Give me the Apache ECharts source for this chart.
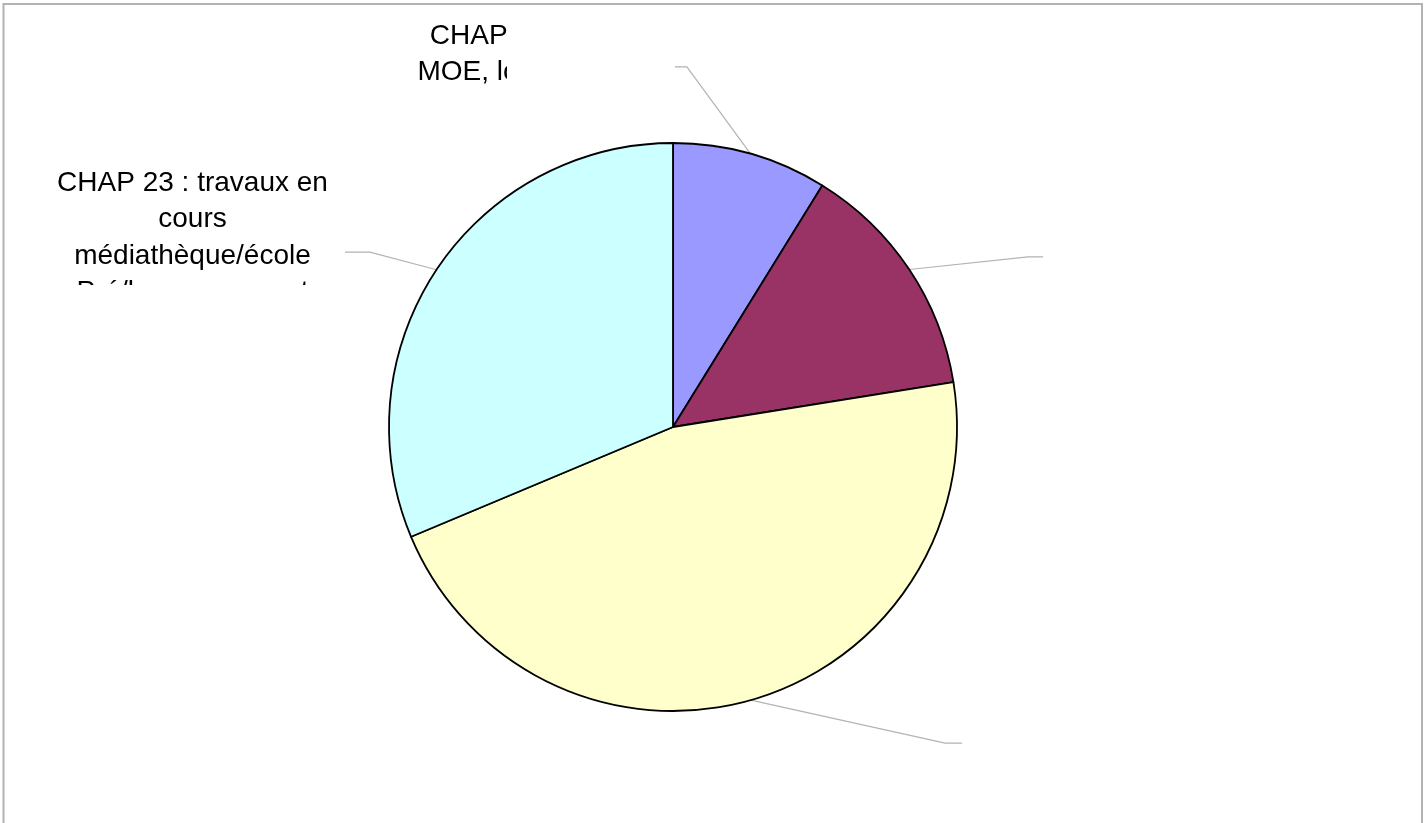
<!DOCTYPE html>
<html>
<head>
<meta charset="utf-8">
<title>Répartition des dépenses</title>
<script src="https://cdn.jsdelivr.net/npm/echarts@6/dist/echarts.min.js"></script>
<style>
  html, body { margin: 0; padding: 0; background: #ffffff; }
  #chart { width: 1426px; height: 823px; }
</style>
</head>
<body>
<div id="chart"></div>
<script>
// Budget chapters, clockwise from 12 o'clock
const categories = ['CHAP 20', 'CHAP 21', 'CHAP 16', 'CHAP 23'];
// Share of each chapter (%)
const shares = [8.81, 13.67, 46.21, 31.32];
// Slice label texts (empty where no caption is shown)
const labelTexts = [
  'CHAP 20 : études\nMOE, logiciels, PLU',
  '',
  '',
  'CHAP 23 : travaux en\ncours\nmédiathèque/école\nPré/locaux, auvent'
];
const sliceColors = ['#9999ff', '#993366', '#ffffcc', '#ccffff'];

// Pie geometry (px)
const CENTER = [673, 427];
const RADIUS = 284;

// Leader line elbows (in radii from the centre), horizontal tail length (px)
// and text anchor offset from the tail end (px)
const LABEL_GEOM = [
  { elbow: [0.049, -1.268], tail: -12, text: [-133, -49] },
  { elbow: [1.25, -0.599], tail: 15, text: [0, 0] },
  { elbow: [0.958, 1.113], tail: 17, text: [0, 0] },
  { elbow: [-1.067, -0.616], tail: -25, text: [-152.5, -87] }
];

const chart = echarts.init(document.getElementById('chart'), null, { renderer: 'canvas' });

const option = {
  backgroundColor: '#ffffff',
  animation: false,
  graphic: [
    // frame
    {
      type: 'rect', z: 100,
      shape: { x: 3.5, y: 4, width: 1418.5, height: 840 },
      style: { fill: 'none', stroke: '#b3b3b3', lineWidth: 2 }
    },
    // caption boxes clip their overflowing text
    {
      type: 'rect', z: 90,
      shape: { x: 507, y: 8, width: 160, height: 92 },
      style: { fill: '#ffffff' }
    },
    {
      type: 'rect', z: 90,
      shape: { x: 20, y: 285, width: 340, height: 40 },
      style: { fill: '#ffffff' }
    }
  ],
  series: [{
    type: 'pie',
    center: CENTER,
    radius: RADIUS,
    startAngle: 90,
    clockwise: true,
    avoidLabelOverlap: false,
    silent: true,
    data: categories.map((name, i) => ({
      name: name,
      value: shares[i],
      itemStyle: { color: sliceColors[i] }
    })),
    itemStyle: { borderColor: '#000000', borderWidth: 1.8 },
    label: {
      show: true,
      position: 'outside',
      formatter: (p) => labelTexts[p.dataIndex] || ' ',
      fontFamily: 'Liberation Sans, Arial, sans-serif',
      fontSize: 28,
      lineHeight: 36.3,
      color: '#000000',
      align: 'center'
    },
    labelLine: {
      show: true,
      length: 20,
      length2: 15,
      lineStyle: { color: '#b3b3b3', width: 1.2 }
    },
    labelLayout: (params) => {
      const g = LABEL_GEOM[params.dataIndex];
      const pts = params.labelLinePoints;
      const p0 = pts ? pts[0] : CENTER;
      const p1 = [CENTER[0] + g.elbow[0] * RADIUS, CENTER[1] + g.elbow[1] * RADIUS];
      const p2 = [p1[0] + g.tail, p1[1]];
      return {
        x: p2[0] + g.text[0],
        y: p2[1] + g.text[1],
        align: 'center',
        verticalAlign: 'top',
        labelLinePoints: [p0, p1, p2]
      };
    }
  }]
};

chart.setOption(option);
</script>
</body>
</html>
